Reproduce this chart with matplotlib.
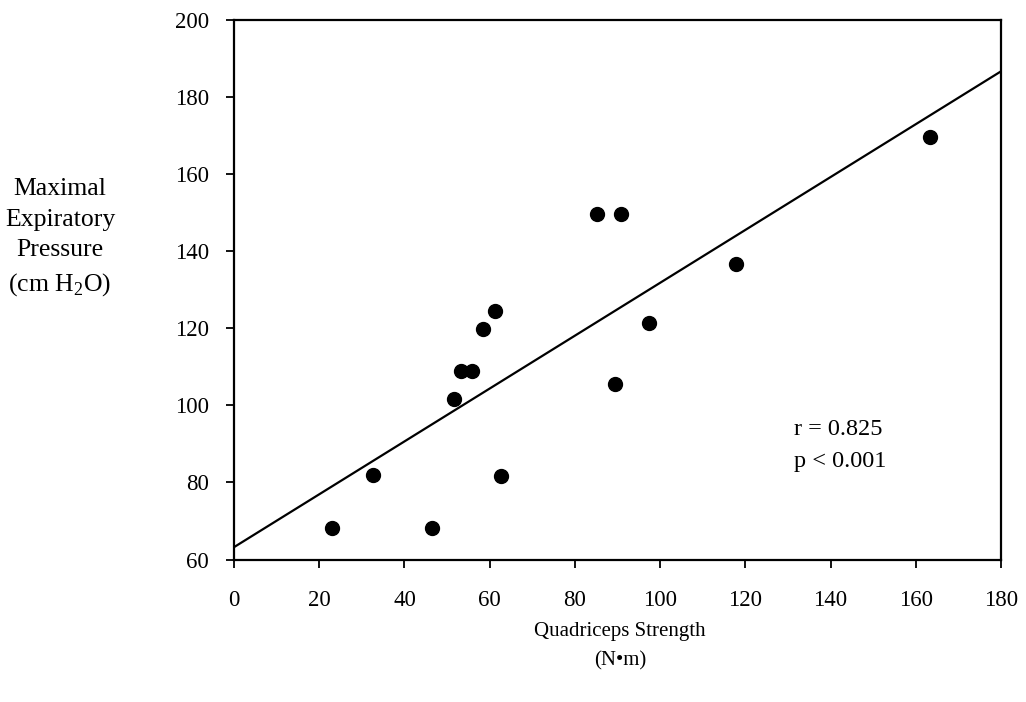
import matplotlib
matplotlib.use("Agg")
import matplotlib.pyplot as plt
import numpy as np

plt.rcParams['font.family'] = ['Liberation Serif', 'DejaVu Serif']
plt.rcParams['mathtext.fontset'] = 'custom'
plt.rcParams['mathtext.rm'] = 'Liberation Serif'

quad_strength = [23.0, 32.7, 46.4, 51.6, 53.3, 55.9, 58.5, 61.3, 62.7, 85.3, 90.8, 89.5, 97.5, 117.8, 163.4]
exp_pressure = [68.2, 81.9, 68.2, 101.7, 108.9, 108.9, 119.8, 124.6, 81.7, 149.6, 149.6, 105.6, 121.5, 136.6, 169.6]
fit_intercept = 63.2
fit_slope = 0.686
x_ticks = [0, 20, 40, 60, 80, 100, 120, 140, 160, 180]
y_ticks = [60, 80, 100, 120, 140, 160, 180, 200]

fig = plt.figure(figsize=(10.26, 7.02), dpi=100)
ax = fig.add_axes([234 / 1026, 1 - 559.5 / 702, (1001 - 234) / 1026, (559.5 - 20) / 702])

ax.plot(quad_strength, exp_pressure, 'o', color='black', ms=10)
xf = np.array([0, 180])
ax.plot(xf, fit_intercept + fit_slope * xf, color='black', lw=1.6)

ax.set_xlim(0, 180)
ax.set_ylim(60, 200)
ax.set_xticks(x_ticks)
ax.set_yticks(y_ticks)
ax.tick_params(direction='out', length=6, width=1.3, labelsize=16.5)
ax.tick_params(axis='x', pad=16)
ax.tick_params(axis='y', pad=12)
for s in ax.spines.values():
    s.set_linewidth(1.6)

ax.text(131.5, 92.4, 'r = 0.825', fontsize=17.5, va='baseline', ha='left')
ax.text(131.5, 84.0, 'p < 0.001', fontsize=17.5, va='baseline', ha='left')

fig.text(60 / 1026, 1 - 238 / 702, 'Maximal\nExpiratory\nPressure\n(cm H$_2$O)',
         ha='center', va='center', fontsize=18.5, linespacing=1.5)
fig.text(620 / 1026, 1 - 646 / 702, 'Quadriceps Strength\n(N\u2022m)',
         ha='center', va='center', fontsize=15, linespacing=1.7)

fig.savefig('out.png', dpi=100)
